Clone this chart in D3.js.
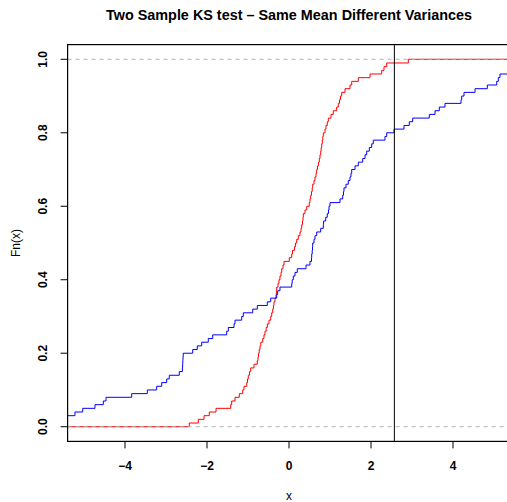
<!DOCTYPE html>
<html>
<head>
<meta charset="utf-8">
<script src="https://cdn.jsdelivr.net/npm/d3@7"></script>
<style>
  body { margin: 0; background: #fff; }
  text { font-family: "Liberation Sans", Arial, sans-serif; fill: #000; }
</style>
</head>
<body>
<div id="chart"></div>
<script>
// sample 1 (red) : narrow variance
const sampleRed = [
  -2.432, -2.212, -2.073, -1.944, -1.780, -1.422, -1.398, -1.317, -1.212, -1.129,
  -1.098, -1.032, -1.012, -0.993, -0.963, -0.934, -0.854, -0.773, -0.756, -0.744,
  -0.727, -0.707, -0.688, -0.641, -0.610, -0.585, -0.556, -0.529, -0.488, -0.446,
  -0.422, -0.398, -0.380, -0.366, -0.341, -0.317, -0.307, -0.300, -0.268, -0.244,
  -0.220, -0.195, -0.178, -0.146, -0.122, 0.007, 0.066, 0.085, 0.134, 0.159,
  0.188, 0.227, 0.268, 0.293, 0.310, 0.329, 0.341, 0.349, 0.390, 0.432,
  0.495, 0.512, 0.529, 0.549, 0.566, 0.578, 0.610, 0.634, 0.659, 0.676,
  0.695, 0.720, 0.739, 0.756, 0.773, 0.785, 0.798, 0.812, 0.824, 0.837,
  0.878, 0.902, 0.934, 0.959, 1.024, 1.080, 1.163, 1.202, 1.232, 1.256,
  1.285, 1.366, 1.488, 1.529, 1.690, 1.976, 2.261, 2.317, 2.383, 2.910
];

// sample 2 (blue) : wide variance
const sampleBlue = [
  -6.000, -5.750, -5.550, -5.220, -5.032, -4.732, -4.529, -4.463, -3.837, -3.456,
  -3.227, -3.105, -2.983, -2.920, -2.676, -2.600, -2.595, -2.590, -2.585, -2.580,
  -2.349, -2.237, -2.129, -1.968, -1.861, -1.520, -1.480, -1.341, -1.317, -1.154,
  -1.115, -0.885, -0.773, -0.529, -0.446, -0.300, -0.276, -0.220, 0.066, 0.078,
  0.105, 0.146, 0.202, 0.415, 0.512, 0.549, 0.554, 0.566, 0.573, 0.578,
  0.610, 0.634, 0.676, 0.773, 0.837, 0.844, 0.895, 0.934, 0.963, 0.976,
  1.000, 1.244, 1.310, 1.329, 1.341, 1.390, 1.446, 1.488, 1.512, 1.529,
  1.610, 1.690, 1.798, 1.854, 1.895, 1.959, 2.017, 2.056, 2.341, 2.383,
  2.561, 2.805, 2.934, 3.017, 3.422, 3.561, 3.666, 3.805, 4.195, 4.212,
  4.268, 4.537, 4.837, 5.066, 5.105, 5.146, 5.500, 5.700, 5.950, 6.300
];

const xTicks = [-4, -2, 0, 2, 4];
const yTicks = [0, 0.2, 0.4, 0.6, 0.8, 1.0];
const xLimits = [-5, 5];
const vLine = 2.57;

const width = 507, height = 502;
const plotLeft = 67.6, plotRight = 510.4, plotTop = 44.6, plotBottom = 441.4;

// R style: limits extended by 4%
const xPad = (xLimits[1] - xLimits[0]) * 0.04;
const x = d3.scaleLinear()
    .domain([xLimits[0] - xPad, xLimits[1] + xPad])
    .range([plotLeft, plotRight]);
const y = d3.scaleLinear()
    .domain([-0.04, 1.04])
    .range([plotBottom, plotTop]);

const svg = d3.select("#chart").append("svg")
    .attr("width", width)
    .attr("height", height);

svg.append("defs").append("clipPath").attr("id", "plotClip")
  .append("rect")
    .attr("x", plotLeft).attr("y", plotTop)
    .attr("width", plotRight - plotLeft).attr("height", plotBottom - plotTop);

const plot = svg.append("g").attr("clip-path", "url(#plotClip)");

function ecdfPoints(values) {
    const s = values.slice().sort((a, b) => a - b);
    const n = s.length;
    const pts = [[x.domain()[0], 0]];
    s.forEach((v, i) => pts.push([v, (i + 1) / n]));
    pts.push([x.domain()[1], 1]);
    return pts;
}

const stepLine = d3.line()
    .x(d => x(d[0]))
    .y(d => y(d[1]))
    .curve(d3.curveStepAfter);

// red ecdf
plot.append("path")
    .attr("d", stepLine(ecdfPoints(sampleRed)))
    .attr("fill", "none")
    .attr("stroke", "#ff0000")
    .attr("stroke-width", 1);

// gray dashed lines at 0 and 1
plot.selectAll("line.h")
  .data([0, 1])
  .enter().append("line")
    .attr("class", "h")
    .attr("x1", plotLeft).attr("x2", plotRight)
    .attr("y1", d => y(d)).attr("y2", d => y(d))
    .attr("stroke", "#b3b3b3")
    .attr("stroke-width", 1)
    .attr("stroke-dasharray", "4,4");

// blue ecdf
plot.append("path")
    .attr("d", stepLine(ecdfPoints(sampleBlue)))
    .attr("fill", "none")
    .attr("stroke", "#0000ff")
    .attr("stroke-width", 1);

// vertical line
plot.append("line")
    .attr("x1", x(vLine)).attr("x2", x(vLine))
    .attr("y1", plotTop).attr("y2", plotBottom)
    .attr("stroke", "#000")
    .attr("stroke-width", 1);

// box
svg.append("rect")
    .attr("x", plotLeft).attr("y", plotTop)
    .attr("width", plotRight - plotLeft).attr("height", plotBottom - plotTop)
    .attr("fill", "none")
    .attr("stroke", "#000")
    .attr("stroke-width", 1.2);

// x axis
const xAxis = svg.append("g");
xAxis.selectAll("line")
  .data(xTicks)
  .enter().append("line")
    .attr("x1", d => x(d)).attr("x2", d => x(d))
    .attr("y1", plotBottom).attr("y2", plotBottom + 7)
    .attr("stroke", "#000");
xAxis.selectAll("text")
  .data(xTicks)
  .enter().append("text")
    .attr("x", d => x(d))
    .attr("y", 469.5)
    .attr("text-anchor", "middle")
    .style("font-size", "12px")
    .style("font-weight", "bold")
    .text(d => d < 0 ? "\u2212" + Math.abs(d) : d);

// y axis
const yAxis = svg.append("g");
yAxis.selectAll("line")
  .data(yTicks)
  .enter().append("line")
    .attr("x1", plotLeft - 7).attr("x2", plotLeft)
    .attr("y1", d => y(d)).attr("y2", d => y(d))
    .attr("stroke", "#000");
yAxis.selectAll("text")
  .data(yTicks)
  .enter().append("text")
    .attr("transform", d => `translate(47,${y(d)}) rotate(-90)`)
    .attr("text-anchor", "middle")
    .style("font-size", "12px")
    .style("font-weight", "bold")
    .text(d => d3.format(".1f")(d));

// labels
svg.append("text")
    .attr("x", (plotLeft + plotRight) / 2)
    .attr("y", 20)
    .attr("text-anchor", "middle")
    .style("font-size", "14.4px")
    .style("font-weight", "bold")
    .text("Two Sample KS test \u2013 Same Mean Different Variances");

svg.append("text")
    .attr("x", (plotLeft + plotRight) / 2)
    .attr("y", 500)
    .attr("text-anchor", "middle")
    .style("font-size", "12px")
    .text("x");

svg.append("text")
    .attr("transform", `translate(20,${(plotTop + plotBottom) / 2}) rotate(-90)`)
    .attr("text-anchor", "middle")
    .style("font-size", "12px")
    .text("Fn(x)");
</script>
</body>
</html>
